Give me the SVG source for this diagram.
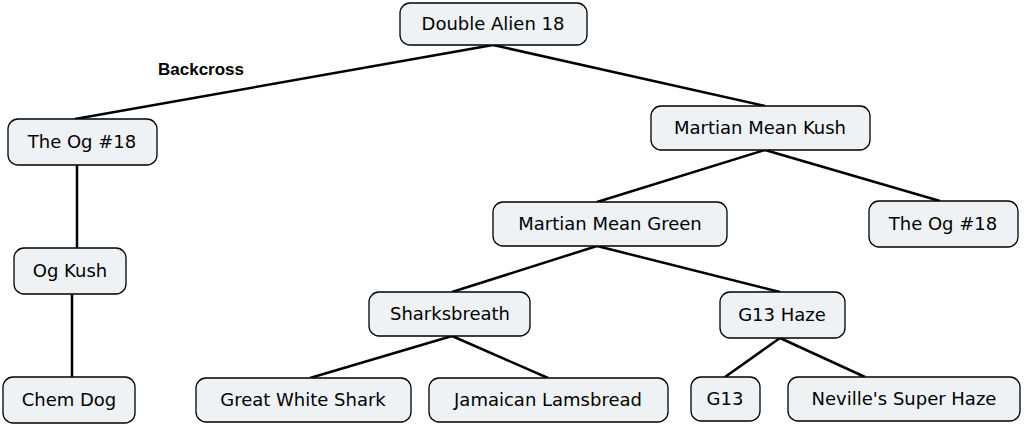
<svg xmlns="http://www.w3.org/2000/svg" width="1024" height="427" viewBox="0 0 1024 427">
<style>
.n rect{fill:#eef2f5;stroke:#000;stroke-width:1.3}
.n text{font-family:"DejaVu Sans",Verdana,sans-serif;font-size:18px;text-anchor:middle;fill:#000}
#c line{stroke:#000;stroke-width:2.5}
.lbl{font-family:"Liberation Sans",Arial,sans-serif;font-weight:bold;font-size:17px}
</style>
<rect width="1024" height="427" fill="#fff"/>
<g id="c">
<line x1="493" y1="45" x2="75" y2="119"/>
<line x1="493" y1="45" x2="765" y2="106"/>
<line x1="765" y1="150" x2="597" y2="202"/>
<line x1="765" y1="150" x2="940" y2="201"/>
<line x1="597" y1="246" x2="452" y2="292"/>
<line x1="597" y1="246" x2="780" y2="292"/>
<line x1="452" y1="336" x2="310" y2="378"/>
<line x1="452" y1="336" x2="548" y2="378"/>
<line x1="780" y1="338" x2="725" y2="377"/>
<line x1="780" y1="338" x2="865" y2="377"/>
<line x1="77" y1="165" x2="77" y2="248"/>
<line x1="72" y1="294" x2="72" y2="377"/>
</g>
<text class="lbl" x="158" y="75">Backcross</text>
<g id="n1" class="n"><rect x="400" y="3" width="187" height="42" rx="10"/><text x="493" y="30">Double Alien 18</text></g>
<g id="n2" class="n"><rect x="8" y="119" width="149" height="46" rx="10"/><text x="82" y="148">The Og #18</text></g>
<g id="n3" class="n"><rect x="651" y="106" width="219" height="44" rx="10"/><text x="760" y="134">Martian Mean Kush</text></g>
<g id="n4" class="n"><rect x="493" y="202" width="234" height="44" rx="10"/><text x="610" y="230">Martian Mean Green</text></g>
<g id="n5" class="n"><rect x="869" y="201" width="149" height="46" rx="10"/><text x="943" y="230">The Og #18</text></g>
<g id="n6" class="n"><rect x="14" y="248" width="112" height="46" rx="10"/><text x="70" y="277">Og Kush</text></g>
<g id="n7" class="n"><rect x="369" y="292" width="161" height="44" rx="10"/><text x="450" y="320">Sharksbreath</text></g>
<g id="n8" class="n"><rect x="720" y="292" width="125" height="46" rx="10"/><text x="782" y="321">G13 Haze</text></g>
<g id="n9" class="n"><rect x="3" y="377" width="132" height="46" rx="10"/><text x="69" y="406">Chem Dog</text></g>
<g id="n10" class="n"><rect x="196" y="378" width="215" height="44" rx="10"/><text x="303" y="406">Great White Shark</text></g>
<g id="n11" class="n"><rect x="429" y="378" width="239" height="44" rx="10"/><text x="548" y="406">Jamaican Lamsbread</text></g>
<g id="n12" class="n"><rect x="691" y="377" width="69" height="44" rx="10"/><text x="725" y="405">G13</text></g>
<g id="n13" class="n"><rect x="788" y="377" width="232" height="44" rx="10"/><text x="904" y="405">Neville's Super Haze</text></g>
</svg>
